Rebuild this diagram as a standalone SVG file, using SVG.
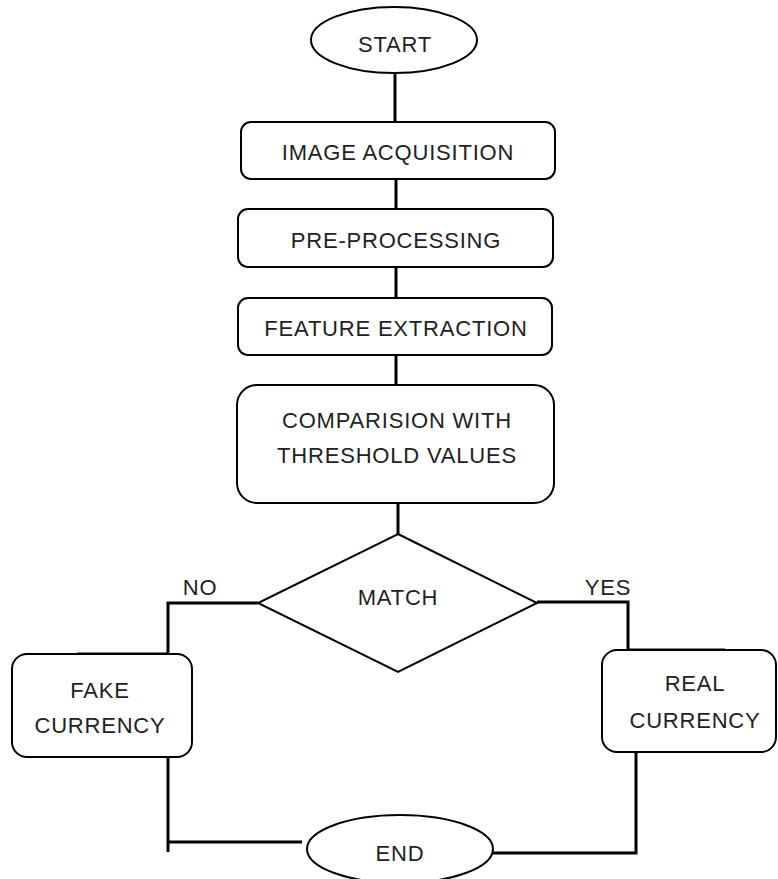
<svg xmlns="http://www.w3.org/2000/svg" width="778" height="879" viewBox="0 0 778 879">
<style>
.shape{fill:#fff;stroke:#000;stroke-width:2}
.conn{fill:none;stroke:#000;stroke-width:3}
text{font-family:"Liberation Sans",Arial,sans-serif;font-size:22px;fill:#222;text-anchor:middle;dominant-baseline:central;letter-spacing:0.8px}
</style>
<rect width="778" height="879" fill="#fff"/>
<g id="connectors">
<line class="conn" x1="395" y1="73" x2="395" y2="122"/>
<line class="conn" x1="396" y1="179" x2="396" y2="209"/>
<line class="conn" x1="396" y1="267" x2="396" y2="298"/>
<line class="conn" x1="396" y1="355" x2="396" y2="385"/>
<line class="conn" x1="398" y1="503" x2="398" y2="534"/>
<polyline class="conn" points="258,603 168,603 168,654"/>
<line class="conn" x1="77" y1="654" x2="169" y2="654"/>
<polyline class="conn" points="537,602 628,602 628,650"/>
<line class="conn" x1="627" y1="650" x2="725" y2="650"/>
<polyline class="conn" points="168,757 168,852"/>
<line class="conn" x1="168" y1="842" x2="302" y2="842"/>
<polyline class="conn" points="636,752 636,853 493,853"/>
</g>
<g id="start">
<ellipse class="shape" cx="394" cy="40" rx="83" ry="33"/>
<text x="395" y="44">START</text>
</g>
<g id="acq">
<rect class="shape" x="241" y="122" width="314" height="57" rx="10"/>
<text x="398" y="152">IMAGE ACQUISITION</text>
</g>
<g id="pre">
<rect class="shape" x="238" y="209" width="315" height="58" rx="10"/>
<text x="396" y="240">PRE-PROCESSING</text>
</g>
<g id="feat">
<rect class="shape" x="238" y="298" width="314" height="57" rx="10"/>
<text x="396" y="328">FEATURE EXTRACTION</text>
</g>
<g id="comp">
<rect class="shape" x="237" y="385" width="317" height="118" rx="20"/>
<text x="397" y="420">COMPARISION WITH</text>
<text x="397" y="455">THRESHOLD VALUES</text>
</g>
<g id="match">
<polygon class="shape" points="398,534 537,603 398,672 258,603"/>
<text x="398" y="597">MATCH</text>
</g>
<g id="labels">
<text x="200" y="587">NO</text>
<text x="608" y="587">YES</text>
</g>
<g id="fake">
<rect class="shape" x="12" y="654" width="180" height="103" rx="15"/>
<text x="100" y="690">FAKE</text>
<text x="100" y="725">CURRENCY</text>
</g>
<g id="real">
<rect class="shape" x="602" y="650" width="174" height="102" rx="15"/>
<text x="695" y="683">REAL</text>
<text x="695" y="720">CURRENCY</text>
</g>
<g id="end">
<ellipse class="shape" cx="400" cy="849" rx="93" ry="34"/>
<text x="400" y="853">END</text>
</g>
</svg>
